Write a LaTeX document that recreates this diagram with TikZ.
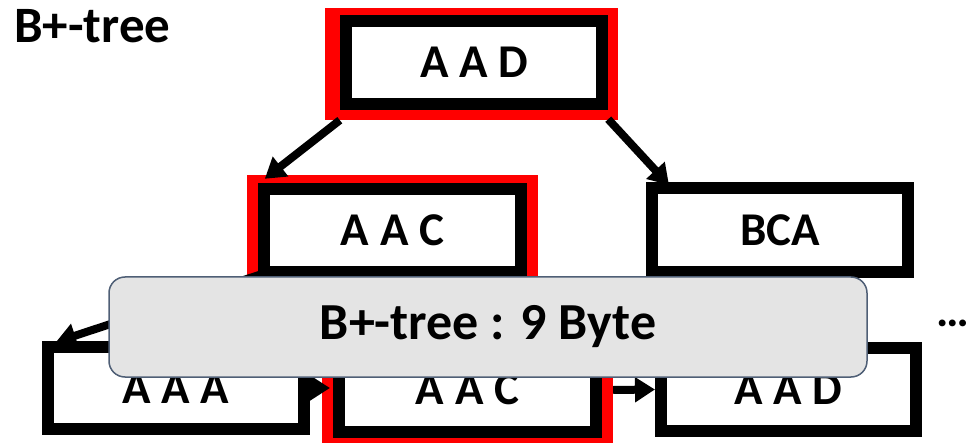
\documentclass[tikz,border=0pt]{standalone}
\usepackage{fontspec}
\setmainfont{Carlito}
\usetikzlibrary{arrows.meta,calc}
\definecolor{panelfill}{HTML}{E4E4E4}
\definecolor{panelline}{HTML}{4F5F76}
\tikzset{
  keybox/.style={draw=black, line width=12pt, fill=white, inner sep=0pt,
    font=\fontsize{47}{47}\selectfont\bfseries},
  pathmark/.style={fill=red, draw=none, inner sep=0pt},
  link/.style={draw=black, line width=8pt, -{Triangle[length=20pt,width=24pt]}},
  panel/.style={draw=panelline, line width=1.5pt, fill=panelfill, rounded corners=16pt,
    minimum width=758pt, minimum height=100pt, inner sep=0pt,
    font=\fontsize{52}{52}\selectfont\bfseries},
}
\begin{document}
\begin{tikzpicture}[x=1pt, y=-1pt]
  \useasboundingbox (0,0) rectangle (968,443);
  \fill[white] (0,0) rectangle (968,443);

  % title
  \node[anchor=base west, inner sep=0pt, font=\fontsize{51}{51}\selectfont\bfseries] (title) at (14,43) {B+-tree};

  % search path highlight
  \node[pathmark, minimum width=293pt, minimum height=112pt] (topmark) at (471.5,64) {};
  \node[pathmark, minimum width=291pt, minimum height=111pt] (midlmark) at (392.5,230.5) {};
  \node[pathmark, minimum width=291pt, minimum height=112pt] (leafbmark) at (467.5,390) {};

  % root
  \node[keybox, minimum width=256pt, minimum height=83pt] (root) at (474,62.5) {A A D};
  % inner level
  \node[keybox, minimum width=257pt, minimum height=83pt] (midl) at (392.5,230.5) {A A C};
  \node[keybox, minimum width=256pt, minimum height=84pt] (midr) at (780,230) {BCA};
  % leaves
  \node[keybox, minimum width=256pt, minimum height=82pt] (leafa) at (176,388) {A A A};
  \node[keybox, minimum width=257pt, minimum height=85pt] (leafb) at (467.5,389.5) {A A C};
  \node[keybox, minimum width=255pt, minimum height=83pt] (leafc) at (788.5,389.5) {A A D};

  \node[anchor=base, inner sep=0pt, font=\fontsize{46}{46}\selectfont\bfseries] (more) at (953,326) {…};

  % child pointers
  \draw[link] ($(topmark.south west)+(15,0)$) -- ($(midlmark.north west)+(18,4)$);
  \draw[link] ($(topmark.south east)+(-10,-1)$) -- ($(midr.north west)+(23,3)$);
  \draw[link] ($(midl.south west)+(4,-4)$) -- ($(leafa.north west)+(14,1)$);
  % leaf chain
  \draw[link, shorten >=3pt] (leafa.east) -- (leafa.east -| leafb.west);
  \draw[link] (leafbmark.east) -- (leafc.west);

  % size annotation
  \node[panel] (note) at (488,327) {B+-tree : 9 Byte};
\end{tikzpicture}
\end{document}
